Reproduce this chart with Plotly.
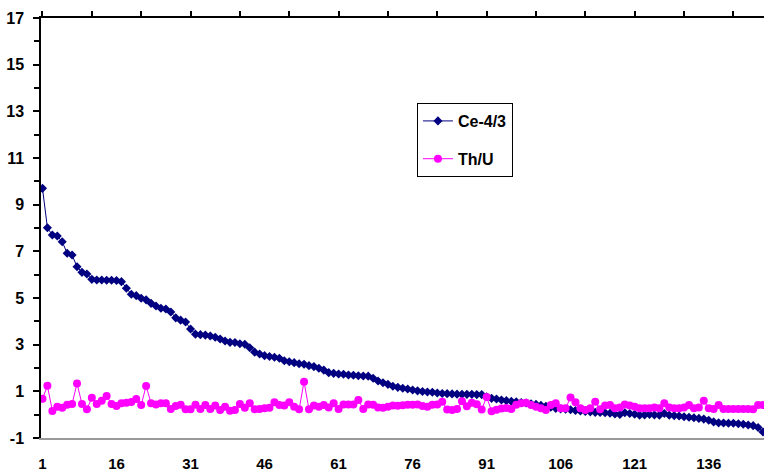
import plotly.graph_objects as go

# Sample index (1..147)
sample_no = list(range(1, 148))

ce_anomaly = [
    9.70, 8.01, 7.70, 7.66, 7.41, 6.92, 6.84, 6.34, 6.10, 6.03,
    5.80, 5.77, 5.77, 5.76, 5.76, 5.75, 5.70, 5.42, 5.16, 5.10,
    4.99, 4.92, 4.77, 4.66, 4.56, 4.53, 4.40, 4.15, 4.05, 3.97,
    3.67, 3.45, 3.43, 3.41, 3.37, 3.32, 3.24, 3.16, 3.10, 3.09,
    3.04, 3.02, 2.87, 2.68, 2.60, 2.53, 2.49, 2.46, 2.42, 2.31,
    2.27, 2.23, 2.18, 2.16, 2.10, 2.06, 1.99, 1.91, 1.80, 1.77,
    1.74, 1.73, 1.70, 1.69, 1.67, 1.66, 1.65, 1.56, 1.44, 1.37,
    1.30, 1.22, 1.17, 1.13, 1.10, 1.06, 1.02, 0.99, 0.97, 0.96,
    0.93, 0.91, 0.90, 0.89, 0.88, 0.87, 0.87, 0.87, 0.86, 0.86,
    0.77, 0.70, 0.67, 0.63, 0.60, 0.57, 0.55, 0.52, 0.50, 0.47,
    0.44, 0.40, 0.36, 0.32, 0.27, 0.25, 0.23, 0.21, 0.18, 0.16,
    0.14, 0.12, 0.10, 0.09, 0.08, 0.06, 0.03, 0.01, 0.08, 0.05,
    0.02, -0.02, -0.01, 0.01, -0.01, -0.02, 0.05, -0.02, -0.04, -0.06,
    -0.09, -0.11, -0.13, -0.16, -0.19, -0.24, -0.31, -0.35, -0.36, -0.37,
    -0.37, -0.39, -0.41, -0.44, -0.47, -0.55, -0.74,
]

th_u = [
    0.68, 1.24, 0.16, 0.34, 0.30, 0.43, 0.46, 1.34, 0.46, 0.23,
    0.73, 0.46, 0.60, 0.80, 0.46, 0.37, 0.49, 0.51, 0.54, 0.67,
    0.41, 1.23, 0.49, 0.44, 0.49, 0.49, 0.24, 0.37, 0.43, 0.23,
    0.23, 0.43, 0.24, 0.41, 0.24, 0.39, 0.20, 0.34, 0.17, 0.20,
    0.46, 0.30, 0.49, 0.23, 0.24, 0.27, 0.30, 0.53, 0.41, 0.39,
    0.53, 0.34, 0.23, 1.41, 0.23, 0.39, 0.34, 0.41, 0.31, 0.49,
    0.24, 0.44, 0.44, 0.44, 0.63, 0.24, 0.44, 0.43, 0.31, 0.30,
    0.34, 0.39, 0.38, 0.40, 0.42, 0.42, 0.44, 0.37, 0.34, 0.43,
    0.44, 0.55, 0.22, 0.20, 0.24, 0.58, 0.36, 0.51, 0.45, 0.22,
    0.76, 0.15, 0.21, 0.26, 0.29, 0.24, 0.43, 0.49, 0.51, 0.41,
    0.34, 0.27, 0.20, 0.41, 0.49, 0.27, 0.27, 0.74, 0.53, 0.27,
    0.20, 0.27, 0.55, 0.23, 0.39, 0.41, 0.27, 0.31, 0.44, 0.39,
    0.34, 0.27, 0.27, 0.27, 0.31, 0.27, 0.49, 0.31, 0.27, 0.27,
    0.31, 0.41, 0.27, 0.31, 0.60, 0.27, 0.24, 0.41, 0.24, 0.24,
    0.24, 0.24, 0.24, 0.24, 0.23, 0.41, 0.41,
]

x_labels = [1, 16, 31, 46, 61, 76, 91, 106, 121, 136]
top_ticks = list(range(1, 148, 10))
y_labels = [-1, 1, 3, 5, 7, 9, 11, 13, 15, 17]

assert len(ce_anomaly) == len(sample_no) == len(th_u)

FONT = "Liberation Sans, Arial, sans-serif"
X_RANGE = [0.7, 147.2]

fig = go.Figure()
fig.add_trace(go.Scatter(
    x=sample_no, y=ce_anomaly, name="Ce-4/3", mode="lines+markers",
    line=dict(color="#000080", width=1),
    marker=dict(symbol="diamond", size=7, color="#000080"),
    legendgroup="a",
))
fig.add_trace(go.Scatter(
    x=sample_no, y=th_u, name="Th/U", mode="lines+markers",
    line=dict(color="#FF00FF", width=1),
    marker=dict(symbol="circle", size=8, color="#FF00FF"),
    legendgroup="b",
))
# invisible trace so the top axis (tick marks only) is drawn
fig.add_trace(go.Scatter(
    x=[1], y=[17], xaxis="x2", mode="markers",
    marker=dict(opacity=0), showlegend=False, hoverinfo="skip",
))

fig.update_layout(
    width=764, height=474,
    margin=dict(l=41, r=0, t=18, b=36),
    paper_bgcolor="white", plot_bgcolor="white",
    font=dict(family=FONT, size=15, color="black"),
    showlegend=True,
    legend=dict(
        x=0.52, y=0.7976, xanchor="left", yanchor="top",
        bordercolor="black", borderwidth=1, bgcolor="white",
        font=dict(family=FONT, size=16, color="black", weight="bold"),
        tracegroupgap=14,
    ),
    xaxis=dict(
        range=X_RANGE, tickvals=x_labels, ticktext=[str(v) for v in x_labels],
        showgrid=False, zeroline=False,
        showline=True, linecolor="#999999", linewidth=1.5,
        ticks="", ticklabelstandoff=11,
        tickfont=dict(family=FONT, size=15, color="black", weight="bold"),
    ),
    xaxis2=dict(
        range=X_RANGE, overlaying="x", side="top", anchor="y",
        tickvals=top_ticks, showticklabels=False,
        showgrid=False, zeroline=False,
        showline=True, linecolor="black", linewidth=1.5,
        ticks="outside", ticklen=5, tickcolor="black", tickwidth=1.5,
    ),
    yaxis=dict(
        range=[-1, 17], tickvals=y_labels, ticktext=[str(v) for v in y_labels],
        showgrid=False, zeroline=False,
        showline=True, linecolor="black", linewidth=1.5,
        ticks="outside", ticklen=6, tickcolor="black", tickwidth=1.5,
        ticklabelstandoff=6,
        minor=dict(dtick=1, tick0=0, ticks="outside", ticklen=5,
                   tickcolor="black", tickwidth=1.5, showgrid=False),
        tickfont=dict(family=FONT, size=16, color="black", weight="bold"),
    ),
)

fig.write_html("out.html")
